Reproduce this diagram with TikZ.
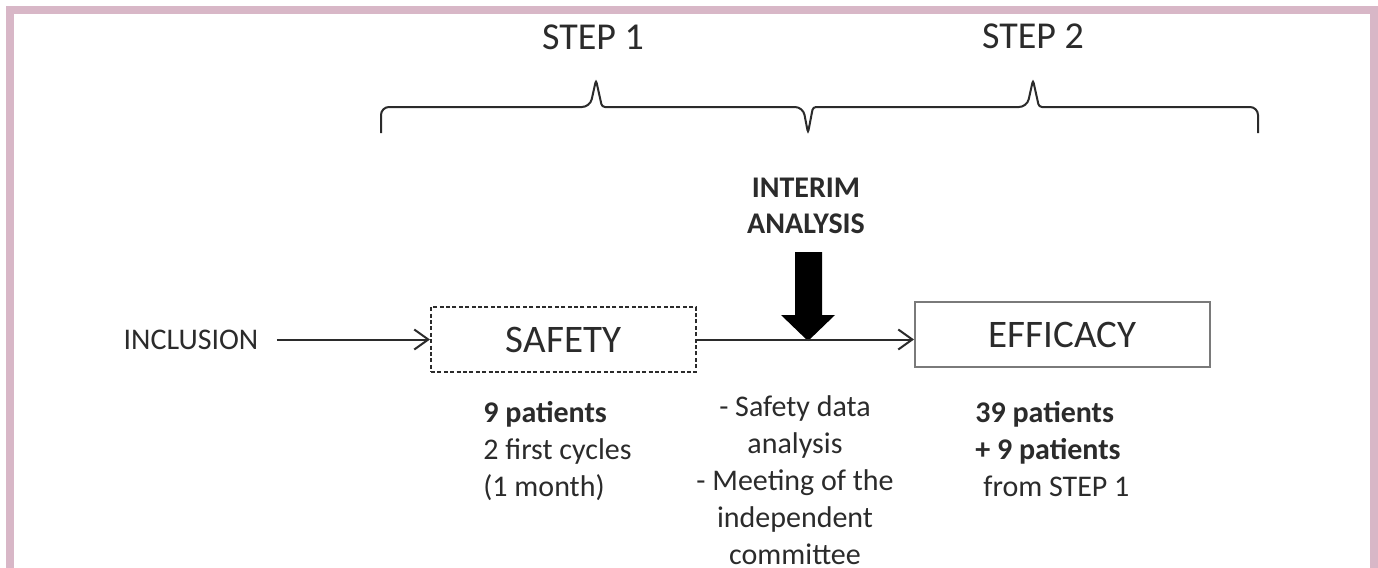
\documentclass[tikz,border=0pt]{standalone}
\usepackage{fontspec}
\setmainfont{Carlito}
\usepackage{xcolor}
\definecolor{frame}{HTML}{D8B7C7}
\definecolor{ink}{HTML}{2B2B2B}
\definecolor{edge}{HTML}{7A7A7A}
\usetikzlibrary{arrows.meta, positioning, calc}
\tikzset{
  phase/.style={
    rectangle, draw=#1, line width=1pt, text=ink,
    minimum width=132.5pt, minimum height=32.5pt,
    font=\fontsize{19.5}{23}\selectfont
  },
  arr/.style={-{Straight Barb[length=7pt, width=10pt]}, line width=1pt, draw=ink},
  notes/.style={font=\fontsize{15}{18.5}\selectfont, text=ink, inner sep=0pt},
  steplabel/.style={font=\fontsize{19}{23}\selectfont, text=ink},
  stepbrace/.style={line width=1pt, draw=ink, rounded corners=4pt}
}

\begin{document}
\begin{tikzpicture}[x=0.5pt, y=-0.5pt]

  %% Frame
  \useasboundingbox (0,0) rectangle (1378,568);
  \fill[frame] (6,6) rectangle (1378,568);
  \fill[white] (14,14) rectangle (1370,568);

  %% Steps
  \node[steplabel] (step1) at (593,37)  {STEP 1};
  \node[steplabel] (step2) at (1033,36) {STEP 2};
  \draw[stepbrace] (381,133) -- (381,107) -- (590,107)
    [rounded corners=1.5pt] -- (596,80) -- (602,107)
    [rounded corners=4pt] -- (803,107)
    [rounded corners=1.5pt] -- (808,133) -- (813,107)
    [rounded corners=4pt] -- (1027,107)
    [rounded corners=1.5pt] -- (1033,80) -- (1039,107)
    [rounded corners=4pt] -- (1258,107) -- (1258,133);

  %% Interim analysis
  \node[notes, font=\fontsize{15}{18}\selectfont\bfseries, align=center]
    (interim) at (806,206) {INTERIM\\ANALYSIS};
  \fill[black] (795,252) -- (822,252) -- (822,315) -- (835,315) -- (808,341)
    -- (781,315) -- (795,315) -- cycle;

  %% Flow
  \node[notes] (incl) at (191,339.5) {INCLUSION};
  \node[phase=ink, dash pattern=on 2pt off 1.2pt] (safety) at (563.5,339.5) {SAFETY};
  \node[phase=edge, minimum width=147.5pt] (efficacy) at (1062.5,334.5) {EFFICACY};

  \draw[arr, shorten <=9pt] (incl.east) -- (safety.west);
  \draw[arr] (safety.east) -- (safety.east -| efficacy.west);

  %% Details
  \node[notes, align=left, anchor=north west] (dose) at (483,401)
    {\textbf{9 patients}\\2 first cycles\\(1 month)};
  \node[notes, align=center, anchor=north] (review) at (795,395)
    {- Safety data\\analysis\\- Meeting of the\\independent\\committee};
  \node[notes, align=left, anchor=north west] (cohort) at (975,401)
    {\textbf{39 patients}\\\textbf{+ 9 patients}\\\hspace*{4pt}from STEP 1};

\end{tikzpicture}
\end{document}
